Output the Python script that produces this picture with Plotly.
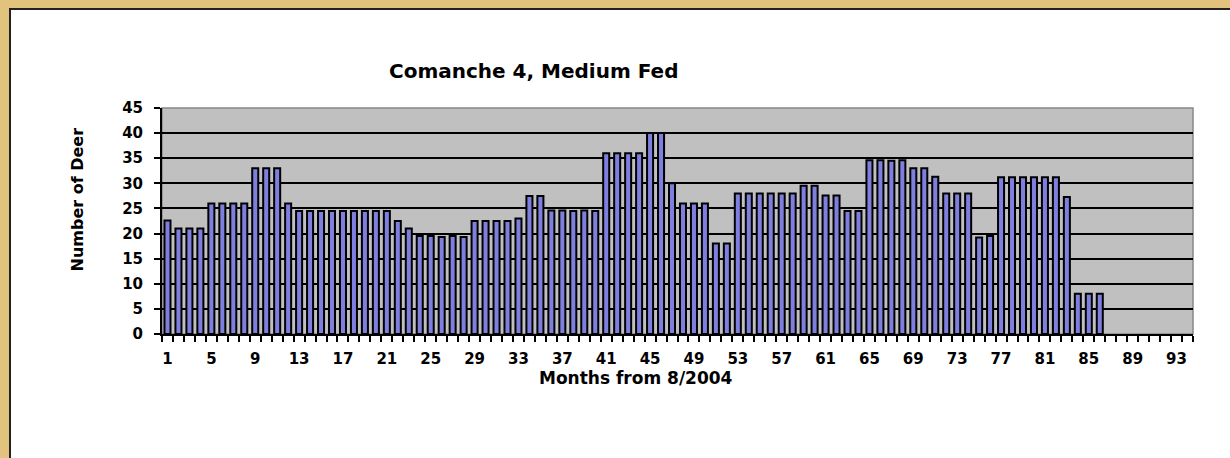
import plotly.graph_objects as go

# ── data ────────────────────────────────────────────────────────────────────
months = list(range(1, 87))
deer = [
    22.6, 21, 21, 21, 26, 26, 26, 26, 33, 33,
    33, 26, 24.5, 24.5, 24.5, 24.5, 24.5, 24.5, 24.5, 24.5,
    24.5, 22.5, 21, 19.5, 19.5, 19.3, 19.5, 19.3, 22.5, 22.5,
    22.5, 22.5, 23, 27.5, 27.5, 24.6, 24.6, 24.5, 24.6, 24.5,
    36, 36, 36, 36, 40, 40, 30, 26, 26, 26,
    18, 18, 28, 28, 28, 28, 28, 28, 29.5, 29.5,
    27.6, 27.6, 24.5, 24.5, 34.6, 34.6, 34.5, 34.6, 33, 33,
    31.3, 28, 28, 28, 19.2, 19.5, 31.2, 31.2, 31.2, 31.2,
    31.2, 31.2, 27.3, 8, 8, 8,
]
n_months = 94
x_ticks = list(range(1, n_months + 1, 4))
y_ticks = list(range(0, 50, 5))

FONT = "DejaVu Sans"

# plot area in pixels (used to place text / frame in paper coords)
L, R, T, B = 162, 1193, 108, 334
W, H = R - L, B - T


def px(x):
    return (x - L) / W


def py(y):
    return (B - y) / H


fig = go.Figure(go.Bar(
    x=months, y=deer,
    width=0.55,
    marker=dict(color="#7F7FE0", line=dict(color="black", width=2)),
    hovertemplate="Month %{x}<br>%{y} deer<extra></extra>",
))

# white chart area on the tan page, then grey plot area
fig.add_shape(type="rect", xref="paper", yref="paper",
              x0=px(10), x1=px(1240), y0=py(470), y1=py(9),
              fillcolor="white", line=dict(color="#222", width=2), layer="below")
fig.add_shape(type="rect", xref="paper", yref="paper",
              x0=0, x1=1, y0=0, y1=1,
              fillcolor="#C0C0C0", line=dict(color="#888", width=1.5), layer="below")

fig.add_annotation(text="<b>Comanche 4, Medium Fed</b>", xref="paper", yref="paper",
                   x=px(534), y=py(57), showarrow=False,
                   font=dict(family=FONT, size=20, color="black"))
fig.add_annotation(text="<b>Months from 8/2004</b>", xref="paper", yref="paper",
                   x=px(636), y=py(390), showarrow=False,
                   font=dict(family=FONT, size=17, color="black"))
fig.add_annotation(text="<b>Number of Deer</b>", xref="paper", yref="paper",
                   x=px(65), y=py(200), showarrow=False, textangle=-90,
                   font=dict(family=FONT, size=16, color="black"))

fig.update_xaxes(
    range=[0.5, n_months + 0.5],
    tickmode="array", tickvals=x_ticks, ticktext=[f"<b>{v}</b>" for v in x_ticks],
    ticks="", ticklabelstandoff=10,
    tickfont=dict(family=FONT, size=15, color="black"),
    showgrid=False, zeroline=False,
    showline=True, linecolor="black", linewidth=2,
    minor=dict(tickmode="array", tickvals=[m - 0.5 for m in range(1, n_months + 2)],
               ticks="outside", ticklen=6, tickwidth=1.5, tickcolor="black", showgrid=False),
)
fig.update_yaxes(
    range=[0, 45],
    tickmode="array", tickvals=y_ticks, ticktext=[f"<b>{v}</b>" for v in y_ticks],
    ticks="outside", ticklen=6, tickwidth=1.5, tickcolor="black",
    ticklabelstandoff=8,
    tickfont=dict(family=FONT, size=15, color="black"),
    showgrid=True, gridcolor="black", gridwidth=1.5,
    zeroline=False,
    showline=True, linecolor="black", linewidth=2,
)

fig.update_layout(
    width=1230, height=458,
    margin=dict(l=L, r=1230 - R, t=T, b=458 - B),
    paper_bgcolor="#E2C37E",
    plot_bgcolor="rgba(0,0,0,0)",
    showlegend=False,
    bargap=0.45,
)

fig.write_html("out.html", config={"displayModeBar": False},
               post_script="document.body.style.margin='0';")
